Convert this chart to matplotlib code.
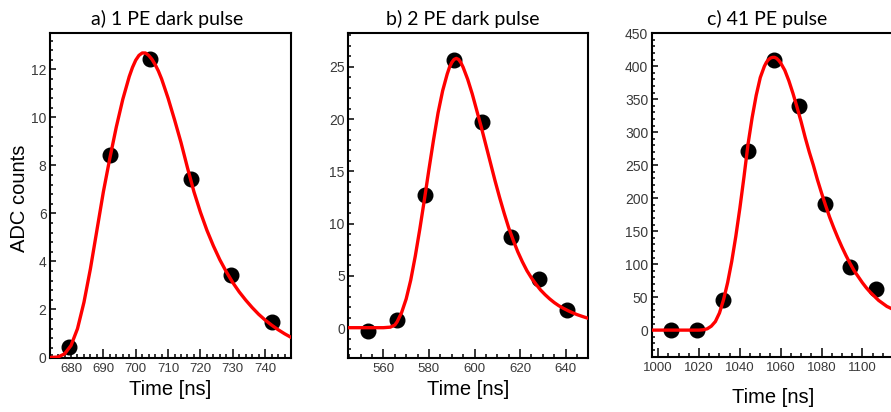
import matplotlib
matplotlib.use("Agg")
import matplotlib.pyplot as plt
from matplotlib.ticker import MultipleLocator

# ---------------- data ----------------
titles = ["a) 1 PE dark pulse", "b) 2 PE dark pulse", "c) 41 PE pulse"]
xlabel = "Time [ns]"
ylabel = "ADC counts"

a_time = [679.5, 692.0, 704.5, 717.0, 729.5, 742.0]
a_adc = [0.45, 8.42, 12.42, 7.42, 3.44, 1.46]
a_fit_time = [673.5, 676, 678, 680, 682, 684, 686, 688, 690, 692, 694, 696, 698, 699, 700, 701,
              702, 703, 704, 705, 706, 707, 708, 710, 712, 714, 716, 718, 720, 722, 724, 726,
              728, 730, 732, 734, 736, 738, 740, 742, 744, 746, 748]
a_fit_adc = [0.0, 0.02, 0.15, 0.5, 1.2, 2.3, 3.7, 5.3, 6.9, 8.3, 9.6, 10.75, 11.7, 12.08, 12.38,
             12.58, 12.68, 12.68, 12.58, 12.42, 12.2, 11.93, 11.6, 10.8, 9.9, 8.95, 7.9, 6.9,
             6.05, 5.3, 4.65, 4.07, 3.57, 3.12, 2.73, 2.39, 2.08, 1.8, 1.56, 1.35, 1.16, 0.99,
             0.84]

b_time = [553.3, 565.8, 578.3, 590.8, 603.3, 615.8, 628.3, 640.8]
b_adc = [-0.25, 0.8, 12.7, 25.6, 19.7, 8.75, 4.75, 1.75]
b_fit_time = [544.6, 560, 563, 565, 566, 568, 570, 572, 574, 576, 578, 580, 582, 584, 586,
              588, 589, 590, 591, 592, 593, 594, 595, 597, 599, 601, 603, 605, 607, 609, 611,
              613, 615, 617, 619, 621, 623, 625, 627, 629, 631, 633, 635, 637, 639, 641, 643,
              645, 647, 649.8]
b_fit_adc = [0.05, 0.05, 0.1, 0.3, 0.6, 1.5, 2.8, 4.6, 6.9, 9.5, 12.3, 15.2, 18.0, 20.6, 22.7,
             24.3, 24.95, 25.4, 25.7, 25.8, 25.7, 25.4, 24.95, 23.8, 22.4, 20.8, 19.2, 17.5,
             15.8, 14.1, 12.5, 11.0, 9.6, 8.4, 7.3, 6.35, 5.5, 4.8, 4.2, 3.65, 3.2, 2.8, 2.45,
             2.15, 1.9, 1.68, 1.48, 1.3, 1.15, 0.95]

c_time = [1006.5, 1019.0, 1031.5, 1044.0, 1056.5, 1069.0, 1081.5, 1094.0, 1106.5]
c_adc = [0, 0, 45, 271, 409, 340, 191, 96, 63]
c_fit_time = [996.8, 1010, 1020, 1022, 1024, 1026, 1028, 1030, 1032, 1034, 1036, 1038, 1040,
              1042, 1044, 1046, 1048, 1050, 1052, 1053, 1054, 1055, 1056, 1057, 1058, 1059,
              1060, 1062, 1064, 1066, 1068, 1070, 1072, 1074, 1076, 1078, 1080, 1082, 1084,
              1086, 1088, 1090, 1092, 1094, 1096, 1098, 1100, 1102, 1104, 1106, 1108, 1110,
              1112, 1116]
c_fit_adc = [0, 0, 0, 0.5, 2, 6, 13, 26, 46, 72, 104, 142, 185, 232, 282, 322, 356, 383, 400,
             406, 410, 412.5, 413.5, 413.5, 412, 409, 405, 394, 378, 359, 338, 316, 292, 270,
             250, 228, 208, 189, 171, 155, 140, 126, 113, 101, 90, 81, 72, 64, 57, 51, 45,
             40.5, 36, 30]

# ---------------- layout ----------------
W, H = 891, 412
fig = plt.figure(figsize=(W / 100, H / 100), dpi=100)


def px_axes(left, right, top, bottom):
    return fig.add_axes([left / W, 1 - bottom / H, (right - left) / W, (bottom - top) / H])


axes_px = [(50, 291, 33.3, 357.5), (348.3, 588, 33.3, 357.5), (651.7, 895, 33.3, 356.5)]
xlims = [(673.5, 748), (544.6, 649.8), (996.8, 1116)]
ylims = [(0, 13.5), (-2.8, 28.2), (-40, 450)]
xmaj = [10, 20, 20]
xmin = [2, 5, 5]
ymaj = [2, 5, 50]
ymin = [0.4, 1, 10]
title_x = [167.5, 462.5, 767.5]
xlabel_y = [-0.068, -0.068, -0.098]

series = [(a_time, a_adc, a_fit_time, a_fit_adc),
          (b_time, b_adc, b_fit_time, b_fit_adc),
          (c_time, c_adc, c_fit_time, c_fit_adc)]

tick_font = "Liberation Sans"
for i, (pos, (tx, ty, fx, fy)) in enumerate(zip(axes_px, series)):
    ax = px_axes(*pos)
    ax.plot(tx, ty, "o", color="black", ms=10.5, zorder=3, clip_on=True)
    ax.plot(fx, fy, "-", color="#ff0000", lw=2.4, zorder=4, solid_joinstyle="round")
    ax.set_xlim(*xlims[i])
    ax.set_ylim(*ylims[i])
    ax.xaxis.set_major_locator(MultipleLocator(xmaj[i]))
    ax.xaxis.set_minor_locator(MultipleLocator(xmin[i]))
    ax.yaxis.set_major_locator(MultipleLocator(ymaj[i]))
    ax.yaxis.set_minor_locator(MultipleLocator(ymin[i]))
    for s in ax.spines.values():
        s.set_linewidth(1.5)
        s.set_color("black")
    ax.tick_params(axis="x", which="major", direction="in", length=6.5, width=1.1,
                   top=False, labelsize=9.5, labelcolor="#3a3a3a", pad=4)
    ax.tick_params(axis="x", which="minor", direction="in", length=3, width=1.1, top=False)
    ax.tick_params(axis="y", which="major", direction="in", length=4.5, width=1.1,
                   right=False, labelsize=10, labelcolor="#3a3a3a", pad=2.5)
    ax.tick_params(axis="y", which="minor", direction="in", length=2.2, width=1.1, right=False)
    for lab in ax.get_xticklabels() + ax.get_yticklabels():
        lab.set_fontfamily(tick_font)
    ax.set_xlabel(xlabel, fontsize=14.5, family="Liberation Sans", va="top")
    ax.xaxis.set_label_coords(0.5, xlabel_y[i])
    fig.text(title_x[i] / W, 1 - 19 / H, titles[i], ha="center", va="center",
             fontsize=14, family="Lato")

fig.text(19.5 / W, 1 - 198 / H, ylabel, rotation=90, ha="center", va="center",
         fontsize=14.5, family="Liberation Sans")

fig.savefig("out.png", dpi=100)
